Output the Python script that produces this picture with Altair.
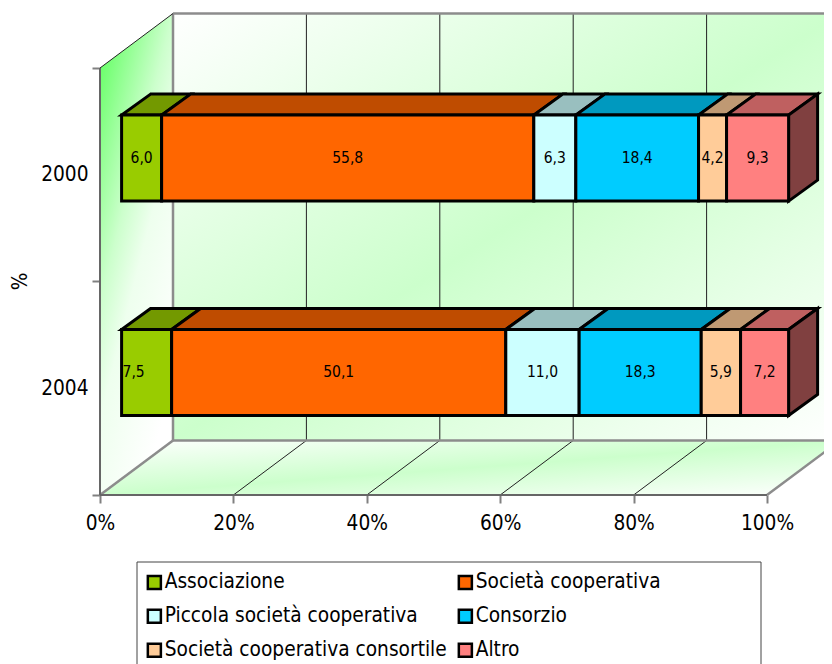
import altair as alt
import pandas as pd

series = ["Associazione", "Società cooperativa", "Piccola società cooperativa",
          "Consorzio", "Società cooperativa consortile", "Altro"]
front_colors = ["#99CC00", "#FF6600", "#CCFFFF", "#00CCFF", "#FFCC99", "#FF8080"]
top_colors = ["#739900", "#BF4C00", "#99BFBF", "#0099BF", "#BF9973", "#BF6060"]
side_color = "#804040"
years = ["2000", "2004"]
values_2000 = [6.0, 55.8, 6.3, 18.4, 4.2, 9.3]
values_2004 = [7.5, 50.1, 11.0, 18.3, 5.9, 7.2]
label_shift_2004 = [-1.95, 0, 0, 0, 0, 0]
label_shift_2000 = [0, 0, 0, 0, 0, 0]
x_ticks = [0, 20, 40, 60, 80, 100]
FONT = "DejaVu Sans Condensed"

# projection constants of the 3-D box, in axis units
PX = 6.67
CAT = 213.5
W, H = 816, 656
x_dom = [(8 - 100) / PX, (8 + W - 100) / PX]
y_dom = [(495 - 8 - H) / CAT, (495 - 8) / CAT]
wall_dx, wall_dy = 73 / PX, 54.5 / CAT
bar_shift = 21.6 / PX
bar_dx, bar_dy = 29 / PX, 21 / CAT
bar_half = 43 / CAT
bar_center = {"2000": 1.578, "2004": 0.574}

xs = alt.Scale(domain=x_dom, nice=False, zero=False)
ys = alt.Scale(domain=y_dom, nice=False, zero=False)

x_axis = alt.Axis(
    values=x_ticks, offset=-(8 + H - 495), domain=False, grid=False, tickColor="#808080", tickWidth=2, tickSize=8,
    labelFont=FONT, labelFontSize=20.7, labelColor="#000000", labelPadding=10,
    labelExpr="datum.value + '%'", labelOverlap=False, labelFlush=False, title=None)
y_axis = alt.Axis(
    values=[0, 0.5, 1, 1.5, 2], offset=-92, domain=False, grid=False, tickColor="#808080", tickWidth=2,
    tickSize=8, tickOpacity={"condition": {"test": "datum.value == 0.5 || datum.value == 1.5", "value": 0},
                             "value": 1},
    labelFont=FONT, labelFontSize=20.7, labelColor="#000000", labelPadding=4,
    labelExpr="datum.value == 0.5 ? '2004' : (datum.value == 1.5 ? '2000' : '')",
    labelOverlap=False, title="%", titleFont=FONT, titleFontSize=20.7, titleFontWeight="normal",
    titleX=-70, titleY=273)


def X(f="x"):
    return alt.X(f"{f}:Q", scale=xs, axis=x_axis, stack=False)


def Y(f="y"):
    return alt.Y(f"{f}:Q", scale=ys, axis=y_axis, stack=False)


def grad(stops, x2=1, y2=1):
    return alt.LinearGradient(
        gradient="linear", x1=0, y1=0, x2=x2, y2=y2,
        stops=[alt.GradientStop(offset=o, color=c) for o, c in stops])


# walls
left_wall = pd.DataFrame({"x": [0, wall_dx], "y": [0, wall_dy], "y2": [2, 2 + wall_dy]})
back_wall = pd.DataFrame({"x": [wall_dx, wall_dx + 100], "y": [wall_dy] * 2, "y2": [2 + wall_dy] * 2})
floor = pd.DataFrame({"y": [0, wall_dy], "x": [0, wall_dx], "x2": [100, 100 + wall_dx]})

green_band = [(0, "#FFFFFF"), (0.5, "#CCFFCC"), (1, "#FFFFFF")]
layers = [
    alt.Chart(left_wall).mark_area(
        orient="vertical",
        color=grad([(0, "#55FF55"), (0.44, "#CCFFCC"), (0.62, "#EEFFEE"), (1, "#FFFFFF")], x2=0.6, y2=1)
    ).encode(x=X(), y=Y(), y2="y2:Q"),
    alt.Chart(back_wall).mark_area(orient="vertical", color=grad(green_band)).encode(x=X(), y=Y(), y2="y2:Q"),
    alt.Chart(floor).mark_area(orient="horizontal", color=grad(green_band)).encode(x=X(), x2="x2:Q", y=Y()),
]

# grid lines on wall and floor
grid = pd.DataFrame({"x": [t + wall_dx for t in x_ticks[1:-1]], "x2": [t + wall_dx for t in x_ticks[1:-1]],
                     "y": [wall_dy] * 4, "y2": [2 + wall_dy] * 4})
floor_grid = pd.DataFrame({"x": x_ticks[1:-1], "x2": [t + wall_dx for t in x_ticks[1:-1]],
                           "y": [0] * 4, "y2": [wall_dy] * 4})
for d in (grid, floor_grid):
    layers.append(alt.Chart(d).mark_rule(color="#222222", strokeWidth=1).encode(
        x=X(), x2="x2:Q", y=Y(), y2="y2:Q"))

# box edges
edges_grey = pd.DataFrame({
    "x": [wall_dx, wall_dx, wall_dx, 0, 100],
    "x2": [wall_dx + 110, wall_dx, wall_dx + 110, wall_dx, 100 + wall_dx],
    "y": [2 + wall_dy, wall_dy, wall_dy, 0, 0],
    "y2": [2 + wall_dy, 2 + wall_dy, wall_dy, wall_dy, wall_dy]})
layers.append(alt.Chart(edges_grey).mark_rule(color="#8C8C8C", strokeWidth=2.5).encode(
    x=X(), x2="x2:Q", y=Y(), y2="y2:Q"))
edges_dark = pd.DataFrame({"x": [0, 0], "x2": [100, 0], "y": [0, 0], "y2": [0, 2]})
layers.append(alt.Chart(edges_dark).mark_rule(color="#666666", strokeWidth=2).encode(
    x=X(), x2="x2:Q", y=Y(), y2="y2:Q"))
edge_thin = pd.DataFrame({"x": [0], "x2": [wall_dx], "y": [2], "y2": [2 + wall_dy]})
layers.append(alt.Chart(edge_thin).mark_rule(color="#222222", strokeWidth=1).encode(
    x=X(), x2="x2:Q", y=Y(), y2="y2:Q"))

# legend frame, behind the real legend
legend_box = pd.DataFrame({"x": [(137 - 100) / PX], "x2": [(761 - 100) / PX],
                           "y": [(495 - 562) / CAT], "y2": [(495 - 680) / CAT]})
layers.append(alt.Chart(legend_box).mark_rect(fill="#FFFFFF", stroke="#444444", strokeWidth=1, clip=True).encode(
    x=X(), x2="x2:Q", y=Y(), y2="y2:Q"))

# bars
rows, tops, sides, labels = [], [], [], []
for year, vals, shifts in ((years[0], values_2000, label_shift_2000), (years[1], values_2004, label_shift_2004)):
    c = bar_center[year]
    s = bar_shift
    for name, v, top, sh in zip(series, vals, top_colors, shifts):
        key = year + name
        rows.append({"series": name, "x": s, "x2": s + v, "y": c - bar_half, "y2": c + bar_half})
        tops.append({"key": key, "fill": top, "x": s, "x2": s + v, "y": c + bar_half})
        tops.append({"key": key, "fill": top, "x": s + bar_dx, "x2": s + v + bar_dx, "y": c + bar_half + bar_dy})
        labels.append({"x": s + v / 2 + sh, "y": c, "text": f"{v:.1f}".replace(".", ",")})
        s += v
    sides.append({"key": year, "fill": side_color, "x": s, "y": c - bar_half, "y2": c + bar_half})
    sides.append({"key": year, "fill": side_color, "x": s + bar_dx, "y": c - bar_half + bar_dy,
                  "y2": c + bar_half + bar_dy})

layers.append(alt.Chart(pd.DataFrame(tops)).mark_area(
    orient="horizontal", stroke="#000000", strokeWidth=3, strokeJoin="miter").encode(
    x=X(), x2="x2:Q", y=Y(), detail="key:N", fill=alt.Fill("fill:N", scale=None)))
layers.append(alt.Chart(pd.DataFrame(sides)).mark_area(
    orient="vertical", stroke="#000000", strokeWidth=3, strokeJoin="miter").encode(
    x=X(), y=Y(), y2="y2:Q", detail="key:N", fill=alt.Fill("fill:N", scale=None)))
layers.append(alt.Chart(pd.DataFrame(rows)).mark_rect(stroke="#000000", strokeWidth=3, opacity=1).encode(
    x=X(), x2="x2:Q", y=Y(), y2="y2:Q",
    color=alt.Color("series:N", scale=alt.Scale(domain=series, range=front_colors), title=None, legend=alt.Legend(
        orient="none", legendX=129, legendY=557, columns=2, direction="horizontal", gridAlign="all",
        padding=7, symbolType="square", symbolSize=170, symbolStrokeColor="#000000", symbolStrokeWidth=2.5,
        labelFont=FONT, labelFontSize=20.7, labelColor="#000000", labelLimit=500, labelOffset=0,
        rowPadding=10, columnPadding=6, symbolOpacity=1))))
layers.append(alt.Chart(pd.DataFrame(labels)).mark_text(font=FONT, fontSize=15.5, color="#000000").encode(
    x=X(), y=Y(), text="text:N"))

chart = alt.layer(*layers).properties(
    width=W, height=H, padding=0, autosize=alt.AutoSizeParams(type="none"),
    background="#FFFFFF").configure_view(stroke=None).configure_axis(
    titleFontSize=20.7, titleFont=FONT, titleFontWeight="normal", titleColor="#000000")

chart.save("out.html", embed_options={"renderer": "svg", "actions": False})
